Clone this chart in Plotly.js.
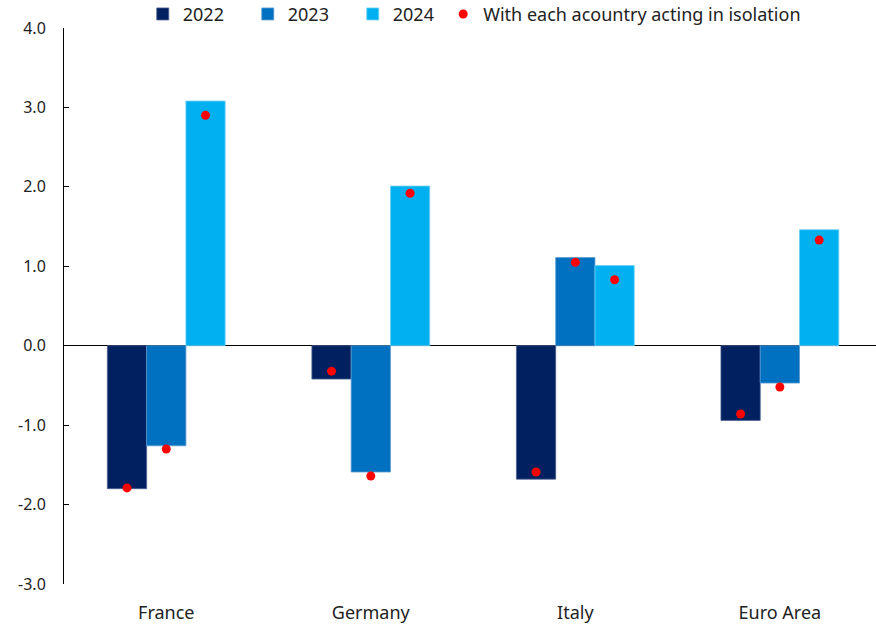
<!DOCTYPE html>
<html>
<head>
<meta charset="utf-8">
<script src="https://cdn.plot.ly/plotly-3.0.1.min.js"></script>
<style>
  html, body { margin: 0; padding: 0; background: #fff; }
  #chart { width: 876px; height: 627px; }
</style>
</head>
<body>
<div id="chart"></div>
<script>
// values
const countries = ["France", "Germany", "Italy", "Euro Area"];
const years = ["2022", "2023", "2024"];
const y2022 = [-1.80, -0.42, -1.68, -0.94];
const y2023 = [-1.26, -1.59, 1.11, -0.47];
const y2024 = [3.08, 2.01, 1.01, 1.46];
// red dots: with each country acting in isolation
const iso2022 = [-1.79, -0.32, -1.59, -0.86];
const iso2023 = [-1.30, -1.64, 1.05, -0.52];
const iso2024 = [2.90, 1.92, 0.83, 1.33];
const yTicks = [-3, -2, -1, 0, 1, 2, 3, 4];

const colors = ["#002060", "#0070C0", "#00B0F0"];
const edge = ["#4a5f8f", "#5a9ad0", "#6fd0f5"];
const barW = 0.192;
const offsets = [-barW, 0, barW];

document.addEventListener("DOMContentLoaded", () => {
    const idx = countries.map((c, i) => i);
    const series = [y2022, y2023, y2024];
    const isoSeries = [iso2022, iso2023, iso2024];

    const traces = series.map((vals, k) => ({
        x: idx.map(i => i + offsets[k]),
        y: vals,
        name: years[k],
        type: "bar",
        width: barW,
        marker: {color: colors[k], line: {color: edge[k], width: 0.8}},
        legend: "legend",
    }));

    // one trace for all the dots, placed over their bars
    const dotX = [], dotY = [];
    isoSeries.forEach((vals, k) => {
        vals.forEach((v, i) => {
            dotX.push(i + offsets[k]);
            dotY.push(v);
        });
    });
    traces.push({
        x: dotX,
        y: dotY,
        name: "With each acountry acting in isolation",
        type: "scatter",
        mode: "markers",
        marker: {color: "#FF0000", size: 9},
        legend: "legend2",
    });

    const legendBase = {
        orientation: "h",
        xanchor: "left",
        y: 1.058,
        yanchor: "top",
        font: {size: 18},
        traceorder: "normal",
        bgcolor: "rgba(0,0,0,0)",
    };

    const layout = {
        width: 876,
        height: 627,
        margin: {l: 64, r: 0, t: 28, b: 43, autoexpand: false},
        paper_bgcolor: "#fff",
        plot_bgcolor: "#fff",
        font: {family: "Noto Sans, Open Sans, sans-serif", size: 16, color: "#222"},
        barmode: "overlay",
        showlegend: true,
        legend: Object.assign({}, legendBase, {x: 0.097, entrywidth: 60, entrywidthmode: "pixels"}),
        legend2: Object.assign({}, legendBase, {x: 0.467}),
        xaxis: {
            range: [-0.5, 3.47],
            tickvals: idx,
            ticktext: countries,
            tickfont: {size: 18},
            showgrid: false,
            zeroline: false,
            showline: false,
            ticks: "",
            ticklabelstandoff: 16,
            fixedrange: true,
        },
        yaxis: {
            range: [-3, 4],
            tickvals: yTicks,
            ticktext: yTicks.map(v => v.toFixed(1)),
            showgrid: false,
            showline: true,
            linecolor: "#000",
            linewidth: 1,
            ticks: "inside",
            ticklen: 5,
            tickcolor: "#000",
            zeroline: true,
            zerolinecolor: "#000",
            zerolinewidth: 1.5,
            ticklabelstandoff: 14,
            fixedrange: true,
        },
    };

    Plotly.newPlot("chart", traces, layout, {displayModeBar: false, staticPlot: true});
});
</script>
</body>
</html>
